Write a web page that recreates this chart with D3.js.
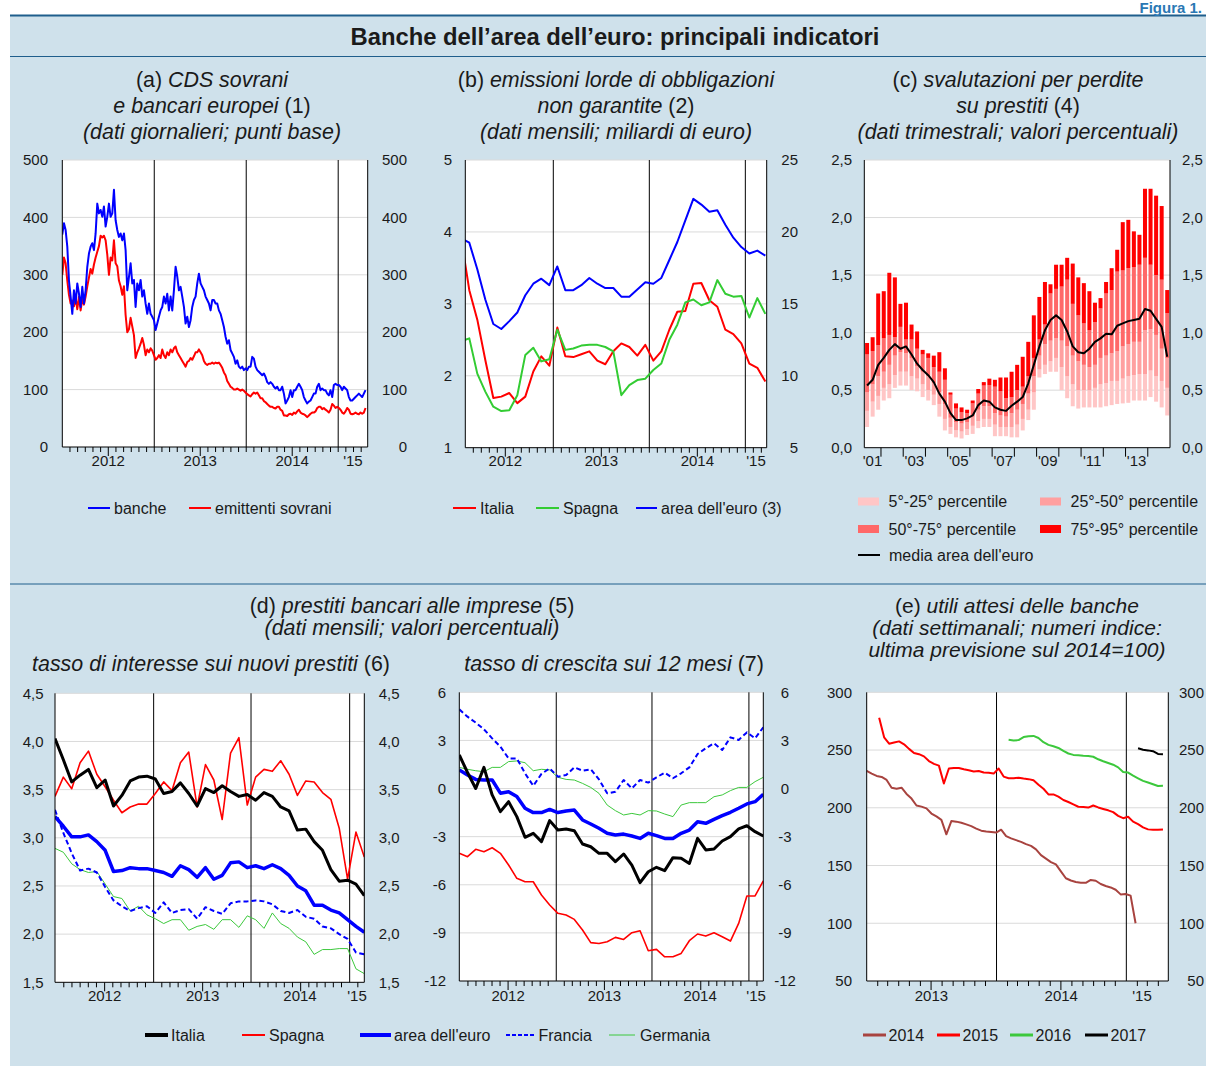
<!DOCTYPE html>
<html>
<head>
<meta charset="utf-8">
<script src="https://cdn.jsdelivr.net/npm/d3@7"></script>
<style>
  body { margin: 0; background: #fff; }
  text { font-family: "Liberation Sans", Arial, Helvetica, sans-serif; fill: #1a1a1a; }
</style>
</head>
<body>
<div id="chart"></div>
<script>
// ---------------- data ----------------
// (a) CDS, sampled about once a week from Jan 2012
var cdsStep = 5 / 23; // months between samples
var cdsBanche = [370,390,378,349,290,262,232,273,250,285,267,244,279,250,273,314,337,349,355,343,
  372,424,407,413,401,419,384,401,424,401,407,448,395,378,366,372,360,372,343,273,
  296,320,285,291,244,285,273,291,262,273,250,232,250,232,227,221,204,215,227,238,
  244,262,250,267,238,262,238,273,314,297,273,279,262,244,215,227,209,221,244,256,
  262,285,302,285,279,273,262,256,250,238,256,256,250,250,238,232,221,209,192,180,
  186,169,163,157,145,151,140,137,140,134,137,134,140,140,157,154,140,134,131,128,
  125,128,122,113,110,113,110,105,102,105,99,99,105,93,76,81,87,99,87,99,
  99,105,110,105,99,87,81,76,79,81,87,93,93,105,110,99,102,99,99,93,
  90,99,87,108,110,108,108,105,99,105,102,99,87,81,81,84,87,90,93,90,87,93,99];
var cdsSovrani = [300,330,320,290,265,250,255,245,260,240,262,238,258,248,262,280,295,310,302,318,
  330,340,350,368,365,368,360,335,300,330,325,360,320,315,290,280,265,280,230,200,
  205,225,210,195,155,165,172,180,190,178,160,170,165,172,168,160,152,155,160,155,
  170,160,155,165,160,170,165,172,175,165,160,155,150,145,140,148,150,155,152,158,
  165,165,170,165,160,150,145,143,145,145,147,145,147,146,147,143,138,130,125,115,
  110,105,103,100,100,102,100,98,100,98,95,92,90,88,92,95,93,95,90,85,
  85,80,78,75,72,70,70,68,67,70,70,65,63,55,55,54,57,58,56,60,
  58,62,65,60,58,57,55,52,55,58,60,60,62,68,70,70,66,68,65,63,
  60,65,75,72,68,70,68,65,60,58,62,68,65,58,57,58,60,58,57,60,58,60,68];

// (b) gross issuance, monthly from Jan 2012 to Mar 2015
var issItalia = [3.9,3.19,2.78,2.22,1.69,1.71,1.76,1.62,1.71,2.06,2.27,2.14,2.67,2.27,2.26,2.30,2.34,2.21,2.16,2.34,
  2.45,2.40,2.28,2.43,2.21,2.34,2.64,2.89,2.90,3.28,3.29,3.05,2.96,2.64,2.58,2.45,2.17,2.11,1.92];
var issSpagna = [2.48,2.52,2.03,1.78,1.57,1.51,1.52,1.73,2.29,2.39,2.20,2.23,2.64,2.36,2.38,2.42,2.43,2.43,2.40,2.34,
  1.73,1.87,1.94,1.96,2.08,2.17,2.50,2.71,3.02,3.06,2.98,3.02,3.33,3.14,3.10,3.11,2.81,3.08,2.86];
var issEuro = [19.55,19.25,17.4,15.3,13.6,13.25,13.8,14.4,15.6,16.4,16.75,16.3,17.6,15.95,15.95,16.3,16.8,16.4,16.1,16.1,
  15.5,15.5,16.0,16.5,16.4,16.8,18.05,19.3,20.8,22.3,21.9,21.4,21.5,20.5,19.6,18.95,18.5,18.7,18.35];

// (c) loan-loss provisions, quarterly 2001 Q2 - 2014 Q4
var provP5 = [0.18,0.27,0.33,0.41,0.43,0.52,0.54,0.54,0.50,0.49,0.44,0.41,0.37,0.27,0.15,0.12,0.09,0.08,0.11,0.12,
  0.17,0.18,0.18,0.10,0.10,0.10,0.09,0.09,0.15,0.24,0.33,0.61,0.64,0.66,0.66,0.50,0.43,0.36,0.34,0.35,
  0.35,0.35,0.35,0.36,0.37,0.38,0.385,0.39,0.41,0.41,0.41,0.44,0.40,0.35,0.28];
var provP25 = [0.32,0.40,0.45,0.52,0.55,0.63,0.66,0.66,0.62,0.60,0.55,0.50,0.46,0.38,0.25,0.18,0.15,0.14,0.16,0.19,
  0.23,0.25,0.25,0.20,0.18,0.18,0.18,0.20,0.25,0.33,0.48,0.68,0.72,0.75,0.78,0.70,0.62,0.55,0.50,0.50,
  0.50,0.52,0.55,0.56,0.58,0.58,0.60,0.62,0.63,0.64,0.64,0.67,0.62,0.58,0.52];
var provP50 = [0.48,0.55,0.62,0.66,0.72,0.80,0.83,0.82,0.78,0.71,0.66,0.62,0.56,0.48,0.38,0.26,0.22,0.21,0.22,0.27,
  0.33,0.36,0.36,0.30,0.28,0.27,0.30,0.33,0.38,0.47,0.62,0.80,0.90,0.93,0.95,0.93,0.88,0.80,0.75,0.72,
  0.70,0.72,0.78,0.80,0.82,0.84,0.88,0.90,0.92,0.92,1.02,1.03,0.98,0.86,0.78];
var provP75 = [0.81,0.84,0.89,0.95,0.98,0.96,1.05,0.94,0.94,0.86,0.81,0.78,0.70,0.66,0.59,0.46,0.34,0.31,0.30,0.385,
  0.47,0.54,0.545,0.53,0.49,0.43,0.44,0.50,0.53,0.62,0.78,0.94,1.07,1.34,1.38,1.40,1.46,1.25,1.15,1.08,
  1.02,1.09,1.21,1.34,1.37,1.53,1.54,1.56,1.57,1.59,1.65,1.59,1.50,1.46,1.17];
var provP95 = [0.91,0.96,1.34,1.36,1.52,1.48,1.25,1.26,1.07,1.01,0.85,0.82,0.80,0.83,0.69,0.48,0.385,0.35,0.33,0.41,
  0.51,0.57,0.60,0.59,0.61,0.61,0.66,0.72,0.79,0.92,1.15,1.31,1.44,1.42,1.59,1.59,1.65,1.60,1.48,1.43,
  1.36,1.26,1.30,1.44,1.56,1.72,1.96,1.98,1.88,1.85,2.25,2.25,2.19,2.10,1.37];
var provMean = [0.54,0.59,0.72,0.78,0.85,0.90,0.86,0.88,0.81,0.73,0.675,0.63,0.57,0.47,0.40,0.30,0.24,0.24,0.255,0.28,
  0.37,0.41,0.40,0.35,0.33,0.32,0.365,0.40,0.44,0.56,0.72,0.88,1.02,1.11,1.15,1.11,1.01,0.88,0.83,0.82,
  0.86,0.92,0.95,0.99,0.985,1.06,1.08,1.10,1.11,1.12,1.205,1.19,1.12,1.05,0.79];
var provLabels = ["'01", "'03", "'05", "'07", "'09", "'11", "'13"];

// (d) loans to firms, monthly Jan 2012 - Feb 2015
var rateItalia = [4.03,3.81,3.58,3.65,3.71,3.52,3.60,3.33,3.44,3.59,3.63,3.64,3.61,3.46,3.48,3.57,3.46,3.33,3.51,3.47,
  3.54,3.48,3.43,3.45,3.39,3.47,3.43,3.32,3.28,3.08,3.09,2.96,2.87,2.67,2.55,2.56,2.52,2.40];
var rateSpagna = [3.43,3.63,3.51,3.78,3.90,3.66,3.53,3.39,3.26,3.32,3.35,3.35,3.46,3.58,3.49,3.78,3.89,3.32,3.76,3.60,
  3.19,3.88,4.04,3.34,3.63,3.71,3.69,3.80,3.66,3.44,3.59,3.58,3.47,3.40,3.10,2.57,3.06,2.80];
var rateEuro = [3.22,3.12,3.01,3.01,3.03,2.96,2.87,2.65,2.66,2.69,2.68,2.68,2.66,2.64,2.60,2.71,2.67,2.59,2.69,2.57,
  2.61,2.74,2.75,2.69,2.71,2.68,2.72,2.68,2.61,2.50,2.45,2.30,2.30,2.25,2.22,2.15,2.08,2.02];
var rateFrancia = [3.29,3.05,2.84,2.66,2.68,2.64,2.49,2.35,2.29,2.24,2.27,2.29,2.22,2.33,2.22,2.25,2.26,2.16,2.28,2.24,
  2.21,2.32,2.34,2.34,2.35,2.34,2.31,2.24,2.22,2.25,2.18,2.16,2.08,2.06,2.00,1.95,1.81,1.79];
var rateGermania = [2.89,2.85,2.73,2.67,2.64,2.65,2.52,2.39,2.37,2.24,2.29,2.20,2.16,2.11,2.15,2.15,2.04,2.08,2.10,2.05,
  2.15,2.15,2.07,2.19,2.15,2.06,2.22,2.11,2.06,1.97,1.92,1.79,1.84,1.84,1.85,1.85,1.64,1.59];
var growItalia = [2.09,1.0,0.0,1.32,-0.40,-1.44,-0.82,-1.75,-3.04,-2.79,-3.31,-2.00,-2.59,-2.52,-2.63,-3.46,-3.63,-4.04,-4.04,-4.56,
  -4.08,-4.77,-5.87,-5.19,-4.91,-5.12,-4.31,-4.35,-4.67,-3.11,-3.83,-3.77,-3.27,-3.00,-2.52,-2.32,-2.69,-2.96];
var growSpagna = [-4.04,-4.25,-3.79,-3.94,-3.69,-4.04,-4.77,-5.60,-5.81,-5.81,-6.64,-7.26,-7.78,-7.89,-8.16,-8.82,-9.61,-9.66,-9.55,-9.28,
  -9.41,-8.99,-8.87,-10.11,-10.03,-10.49,-10.49,-10.28,-9.49,-9.07,-9.20,-8.99,-9.24,-9.51,-8.41,-6.70,-6.70,-5.75];
var growEuro = [1.16,0.84,0.57,0.53,0.53,-0.29,-0.20,-0.50,-1.23,-1.50,-1.50,-1.30,-1.50,-1.40,-1.34,-1.96,-2.21,-2.48,-2.79,-2.90,
  -2.84,-2.96,-3.11,-2.79,-2.94,-3.11,-3.11,-2.79,-2.59,-2.07,-2.17,-1.92,-1.69,-1.48,-1.23,-0.96,-0.82,-0.36];
var growFrancia = [4.94,4.48,4.11,3.69,3.13,2.61,1.88,1.88,0.95,0.17,0.91,1.26,0.74,0.84,1.32,1.11,1.20,0.57,-0.30,-0.20,
  0.53,0.01,0.53,0.37,0.70,0.99,0.64,0.95,1.32,2.15,2.51,2.82,2.40,3.19,3.03,3.50,3.13,3.82];
var growGermania = [1.32,1.20,1.11,1.05,1.32,1.32,1.68,1.72,1.61,1.11,1.20,1.16,0.70,0.57,0.53,0.32,0.07,-0.30,-1.03,-1.38,
  -1.65,-1.55,-1.65,-1.38,-1.40,-1.59,-1.75,-1.03,-0.88,-0.88,-0.88,-0.51,-0.40,-0.13,0.07,0.07,0.43,0.70];
var dYearBreaks = [11.8, 23.45, 35.25]; // where the year lines fall, in observation units

// (e) expected profits, every two weeks; start = weeks after 1 Jan 2013
var profit2014 = [231.9,229.6,227.6,226.7,224.1,217.4,216.5,217.4,212,208,202,201,199.5,195,192.5,189.5,177,188.5,188,187,
  185.6,184.1,182,180.2,179.5,179,178.5,181,175.5,173.5,172,170.5,168.5,167,164,159,156,153,151,145,
  139,137,135.8,135,135,137.5,136.8,134,132.3,131,129,125,125.3,123.9,100];
var profit2015 = [278,261,255.5,256.5,257.5,255,251,247.5,246.4,244.5,240.5,238,236.5,221,234,234.5,234.5,233.4,232.5,231.5,
  231.9,230.5,230.3,229.6,234,227,225.6,225.5,226,225.3,224.8,223.8,220,216.5,211.6,211.6,209.6,206.7,205,203,
  200.9,200.6,200.2,202,200.3,199,197.8,196.2,193,191,192.2,188,185.8,183,181.3,181,181,181.2];
var profit2016 = [258.9,258.2,258.6,261.2,262,262.2,260.4,256.8,254.5,253.3,251.8,249.2,247,245.8,245.4,245,244.8,244.2,242,240.3,
  238.8,237.3,235,231,230.5,227.8,225.5,223.3,221.9,220.4,218.9,219];
var profit2017 = [251.5,250.2,249.7,249,246.6,246.4];
var profitStartWeek = [0, 5, 57, 109];

var yearLabels = ["2012", "2013", "2014", "'15"];

// ---------------- drawing ----------------
var svgWidth = 1206, svgHeight = 1066;
var svg = d3.select("#chart").append("svg").attr("width", svgWidth).attr("height", svgHeight);

var bg = "#cfe1eb", frame = "#1f5e8c";
var titleSize = 21.4, legendSize = 16;
var comma = d3.formatLocale({ decimal: ",", thousands: ".", grouping: [3], currency: ["", "€"], minus: "-" });
var f1 = comma.format(".1f"), f0 = comma.format("d");

svg.append("rect").attr("x", 10).attr("y", 15).attr("width", 1196).attr("height", 1051).attr("fill", bg);
[[15.5, 2], [56.5, 1], [584, 1]].forEach(function (d) {
  svg.append("line").attr("x1", 10).attr("x2", 1206).attr("y1", d[0]).attr("y2", d[0])
    .attr("stroke", frame).attr("stroke-width", d[1]);
});
svg.append("text").attr("x", 1202).attr("y", 13).attr("text-anchor", "end").attr("font-size", 15)
  .attr("font-weight", "bold").style("fill", "#2a78b4").text("Figura 1.");
svg.append("text").attr("x", 615).attr("y", 45).attr("text-anchor", "middle").attr("font-size", 23.8)
  .attr("font-weight", "bold").text("Banche dell’area dell’euro: principali indicatori");

function title(cx, y, parts, size) {
  var t = svg.append("text").attr("x", cx).attr("y", y).attr("text-anchor", "middle").attr("font-size", size || titleSize);
  parts.forEach(function (p) {
    t.append("tspan").attr("font-style", p[1] ? "italic" : "normal").text(p[0]);
  });
}

title(212, 87, [["(a) ", 0], ["CDS sovrani", 1]]);
title(212, 113, [["e bancari europei", 1], [" (1)", 0]]);
title(212, 139, [["(dati giornalieri; punti base)", 1]]);
title(616, 87, [["(b) ", 0], ["emissioni lorde di obbligazioni", 1]]);
title(616, 113, [["non garantite", 1], [" (2)", 0]]);
title(616, 139, [["(dati mensili; miliardi di euro)", 1]]);
title(1018, 87, [["(c) ", 0], ["svalutazioni per perdite", 1]]);
title(1018, 113, [["su prestiti", 1], [" (4)", 0]]);
title(1018, 139, [["(dati trimestrali; valori percentuali)", 1]]);
title(412, 613, [["(d) ", 0], ["prestiti bancari alle imprese", 1], [" (5)", 0]]);
title(412, 635, [["(dati mensili; valori percentuali)", 1]]);
title(211, 671, [["tasso di interesse sui nuovi prestiti", 1], [" (6)", 0]]);
title(614, 671, [["tasso di crescita sui 12 mesi", 1], [" (7)", 0]]);
title(1017, 612.5, [["(e) ", 0], ["utili attesi delle banche", 1]], 21);
title(1017, 634.5, [["(dati settimanali; numeri indice:", 1]], 21);
title(1017, 656.5, [["ultima previsione sul 2014=100)", 1]], 21);

var clipCount = 0;
function panel(L, R, T, B, x, yDom, ticks) {
  var y = d3.scaleLinear().domain(yDom).range([B, T]);
  x.range([L, R]);
  var id = "clip" + (clipCount++);
  svg.append("clipPath").attr("id", id).append("rect")
    .attr("x", L).attr("y", T - 3).attr("width", R - L).attr("height", B - T + 3);
  svg.append("rect").attr("x", L).attr("y", T).attr("width", R - L).attr("height", B - T).attr("fill", "#fff");
  var back = svg.append("g");
  back.selectAll(null).data(ticks.slice(1)).enter().append("line")
    .attr("x1", L).attr("x2", R).attr("y1", function (d) { return y(d); }).attr("y2", function (d) { return y(d); })
    .attr("stroke", "#dadada").attr("stroke-width", 1);
  var plot = svg.append("g").attr("clip-path", "url(#" + id + ")");
  var front = svg.append("g");
  return { x: x, y: y, L: L, R: R, T: T, B: B, back: back, plot: plot, front: front, ticks: ticks };
}

function finishFrame(p) {
  var f = p.front;
  f.append("line").attr("x1", p.L).attr("x2", p.L).attr("y1", p.T).attr("y2", p.B).attr("stroke", "#000");
  f.append("line").attr("x1", p.R).attr("x2", p.R).attr("y1", p.T).attr("y2", p.B).attr("stroke", "#000");
  f.append("line").attr("x1", p.L).attr("x2", p.R).attr("y1", p.B).attr("y2", p.B).attr("stroke", "#000");
}

function yearLines(p, vals) {
  p.back.selectAll(null).data(vals).enter().append("line")
    .attr("x1", function (d) { return p.x(d); }).attr("x2", function (d) { return p.x(d); })
    .attr("y1", p.T).attr("y2", p.B).attr("stroke", "#000").attr("stroke-width", 1);
}

function xTicks(p, vals, len) {
  p.front.selectAll(null).data(vals).enter().append("line")
    .attr("x1", function (d) { return p.x(d); }).attr("x2", function (d) { return p.x(d); })
    .attr("y1", p.B).attr("y2", p.B + len).attr("stroke", "#000").attr("stroke-width", 1);
}

function xLabels(p, vals, labels, yBase) {
  p.front.selectAll(null).data(vals).enter().append("text")
    .attr("x", function (d) { return p.x(d); }).attr("y", yBase).attr("text-anchor", "middle")
    .attr("font-size", 15).text(function (d, i) { return labels[i]; });
}

function yLabels(p, fmt, xPos, anchor, scale, ticks) {
  var s = scale || p.y;
  p.front.selectAll(null).data(ticks || p.ticks).enter().append("text")
    .attr("x", xPos).attr("y", function (d) { return s(d); }).attr("dy", "0.35em")
    .attr("text-anchor", anchor).attr("font-size", 15).text(fmt);
}

function drawLine(p, values, xOf, color, width, dash, yScale) {
  var ys = yScale || p.y;
  p.plot.append("path").datum(values)
    .attr("fill", "none").attr("stroke", color).attr("stroke-width", width)
    .attr("stroke-linejoin", "round").attr("stroke-dasharray", dash || null)
    .attr("d", d3.line().x(function (d, i) { return p.x(xOf(i)); }).y(function (d) { return ys(d); }));
}

function monthTicks(p, from, to) {
  var minor = d3.range(from, to + 0.001, 1);
  xTicks(p, minor.filter(function (m) { return m % 12 !== 6; }), 5);
  xTicks(p, minor.filter(function (m) { return m % 12 === 6; }), 9);
}

// ---- (a) ----
var pa = panel(62.3, 367.7, 160, 447, d3.scaleLinear().domain([0, 39.85]), [0, 500], d3.range(0, 501, 100));
yearLines(pa, [12, 24, 36]);
drawLine(pa, cdsSovrani, function (i) { return i * cdsStep; }, "#ff0000", 2);
drawLine(pa, cdsBanche, function (i) { return i * cdsStep; }, "#0000ff", 2);
finishFrame(pa);
monthTicks(pa, 1, 39);
xLabels(pa, [6, 18, 30, (36 + 39.85) / 2], yearLabels, 466);
yLabels(pa, f0, 48, "end");
yLabels(pa, f0, 407, "end");

// ---- (b) ----
var pb = panel(465.3, 766.7, 160, 447.7, d3.scaleLinear().domain([1.0, 38.67]), [1, 5], d3.range(1, 5.01, 1));
var pbRight = d3.scaleLinear().domain([5, 25]).range([447.7, 160]);
yearLines(pb, [12, 24, 36]);
var midMonth = function (i) { return i + 0.5; };
drawLine(pb, issItalia, midMonth, "#ff0000", 2);
drawLine(pb, issSpagna, midMonth, "#33cc33", 2);
drawLine(pb, issEuro, midMonth, "#0000ff", 2, null, pbRight);
finishFrame(pb);
monthTicks(pb, 2, 38);
xLabels(pb, [6, 18, 30, (36 + 38.67) / 2], yearLabels, 466);
yLabels(pb, f0, 452, "end");
yLabels(pb, f0, 798, "end", pbRight, d3.range(5, 25.01, 5));

// ---- (c) ----
var pc = panel(864.3, 1170, 160, 447.7, d3.scaleLinear().domain([2001.25, 2015]), [0, 2.5], d3.range(0, 2.501, 0.5));
var quarterYear = function (i) { return 2001.25 + i * 0.25; };
var qW = pc.x(2001.5) - pc.x(2001.25), barW = 4;
var bands = [
  { lo: provP5, hi: provP25, color: "#ffc6c6" },
  { lo: provP25, hi: provP50, color: "#ffa0a0" },
  { lo: provP50, hi: provP75, color: "#ff6868" },
  { lo: provP75, hi: provP95, color: "#ff0000" }
];
bands.forEach(function (b) {
  pc.plot.selectAll(null).data(b.hi).enter().append("rect")
    .attr("x", function (d, i) { return pc.x(quarterYear(i)) + (qW - barW) / 2; })
    .attr("width", barW)
    .attr("y", function (d) { return pc.y(d); })
    .attr("height", function (d, i) { return pc.y(b.lo[i]) - pc.y(d); })
    .attr("fill", b.color);
});
drawLine(pc, provMean, function (i) { return quarterYear(i) + 0.125; }, "#000", 2);
finishFrame(pc);
xTicks(pc, d3.range(2002, 2015, 1), 9);
xLabels(pc, [2001.62, 2003.5, 2005.5, 2007.5, 2009.5, 2011.5, 2013.5], provLabels, 466);
yLabels(pc, f1, 852, "end");
yLabels(pc, f1, 1182, "start");

// ---- (d) shared month ticks ----
function dTicks(p) {
  var step = (dYearBreaks[2] - dYearBreaks[0]) / 24;
  var all = d3.range(-12, 28).map(function (j) { return { v: dYearBreaks[0] + j * step, j: j }; })
    .filter(function (t) { return t.v > 0.3 && t.v < 37 && (t.j % 12) !== 0; });
  xTicks(p, all.filter(function (t) { return ((t.j % 12) + 12) % 12 !== 6; }).map(function (t) { return t.v; }), 5);
  xTicks(p, all.filter(function (t) { return ((t.j % 12) + 12) % 12 === 6; }).map(function (t) { return t.v; }), 9);
  xLabels(p, [dYearBreaks[0] - 6 * step, dYearBreaks[0] + 6 * step, dYearBreaks[1] + 6 * step, (dYearBreaks[2] + 37) / 2],
    yearLabels, 1001);
}
var obs = function (i) { return i; };

// ---- (d) left ----
var pdl = panel(55, 364.3, 693.3, 982.3, d3.scaleLinear().domain([0, 37]), [1.5, 4.5], d3.range(1.5, 4.501, 0.5));
yearLines(pdl, dYearBreaks);
drawLine(pdl, rateGermania, obs, "#3cc83c", 1);
drawLine(pdl, rateFrancia, obs, "#0000ff", 2, "5,3");
drawLine(pdl, rateSpagna, obs, "#ff0000", 1.6);
drawLine(pdl, rateEuro, obs, "#0000ff", 3.5);
drawLine(pdl, rateItalia, obs, "#000", 3);
finishFrame(pdl);
dTicks(pdl);
yLabels(pdl, f1, 43.5, "end");
yLabels(pdl, f1, 399.5, "end");

// ---- (d) right ----
var pdr = panel(459.3, 763.3, 692.3, 981, d3.scaleLinear().domain([0, 37]), [-12, 6], d3.range(-12, 6.01, 3));
yearLines(pdr, dYearBreaks);
drawLine(pdr, growGermania, obs, "#3cc83c", 1);
drawLine(pdr, growFrancia, obs, "#0000ff", 2, "5,3");
drawLine(pdr, growSpagna, obs, "#ff0000", 1.6);
drawLine(pdr, growEuro, obs, "#0000ff", 3.5);
drawLine(pdr, growItalia, obs, "#000", 3);
finishFrame(pdr);
dTicks(pdr);
yLabels(pdr, f0, 446, "end");
yLabels(pdr, f0, 785, "middle");

// ---- (e) ----
var t0 = new Date(2013, 0, 1);
var pe = panel(866.7, 1168.3, 692.3, 981, d3.scaleTime().domain([t0, new Date(2015, 3, 29)]), [50, 300], d3.range(50, 301, 50));
yearLines(pe, [new Date(2014, 0, 1), new Date(2015, 0, 1)]);
var profitSeries = [
  { v: profit2014, c: "#a8433f" }, { v: profit2015, c: "#ff0000" },
  { v: profit2016, c: "#3cc83c" }, { v: profit2017, c: "#000" }
];
profitSeries.forEach(function (s, k) {
  drawLine(pe, s.v, function (i) { return d3.timeDay.offset(t0, 7 * profitStartWeek[k] + 14 * i); }, s.c, 2);
});
finishFrame(pe);
var months = d3.timeMonth.range(new Date(2013, 1, 1), new Date(2015, 4, 1));
xTicks(pe, months.filter(function (d) { return d.getMonth() !== 6 && d.getMonth() !== 0; }), 5);
xTicks(pe, months.filter(function (d) { return d.getMonth() === 6; }), 9);
xLabels(pe, [new Date(2013, 6, 2), new Date(2014, 6, 2), new Date(2015, 1, 14)], ["2013", "2014", "'15"], 1001);
yLabels(pe, f0, 852, "end");
yLabels(pe, f0, 1204, "end");

// ---------------- legends ----------------
function legendLine(x, y, w, color, width, dash, label, gap) {
  svg.append("line").attr("x1", x).attr("x2", x + w).attr("y1", y).attr("y2", y)
    .attr("stroke", color).attr("stroke-width", width).attr("stroke-dasharray", dash || null);
  svg.append("text").attr("x", x + w + (gap || 4)).attr("y", y).attr("dy", "0.35em")
    .attr("font-size", legendSize).text(label);
}
legendLine(88, 508, 22, "#0000ff", 2, null, "banche");
legendLine(189, 508, 22, "#ff0000", 2, null, "emittenti sovrani");
legendLine(453, 508, 23, "#ff0000", 2, null, "Italia");
legendLine(536, 508, 23, "#33cc33", 2, null, "Spagna");
legendLine(636, 508, 21, "#0000ff", 2, null, "area dell'euro (3)");

var bandLabels = ["5°-25° percentile", "25°-50° percentile", "50°-75° percentile", "75°-95° percentile"];
bands.forEach(function (b, i) {
  var lx = i % 2 === 0 ? 858 : 1040, ly = i < 2 ? 501.5 : 529;
  svg.append("rect").attr("x", lx).attr("y", ly - 4).attr("width", 21).attr("height", 8).attr("fill", b.color);
  svg.append("text").attr("x", lx + 30.5).attr("y", ly).attr("dy", "0.35em").attr("font-size", legendSize).text(bandLabels[i]);
});
legendLine(858, 555, 22, "#000", 2, null, "media area dell'euro", 9);

legendLine(145, 1035, 23, "#000", 4, null, "Italia", 3);
legendLine(242, 1035, 23, "#ff0000", 2, null, "Spagna", 4);
legendLine(360, 1035, 31, "#0000ff", 4, null, "area dell'euro", 3);
legendLine(506, 1035, 29, "#0000ff", 2, "4,2", "Francia", 3.5);
legendLine(609, 1035, 26, "#3cc83c", 1, null, "Germania", 5);
["2014", "2015", "2016", "2017"].forEach(function (lab, k) {
  legendLine([863, 937, 1010, 1085][k], 1035, 23, profitSeries[k].c, 3, null, lab, 2.5);
});
</script>
</body>
</html>
